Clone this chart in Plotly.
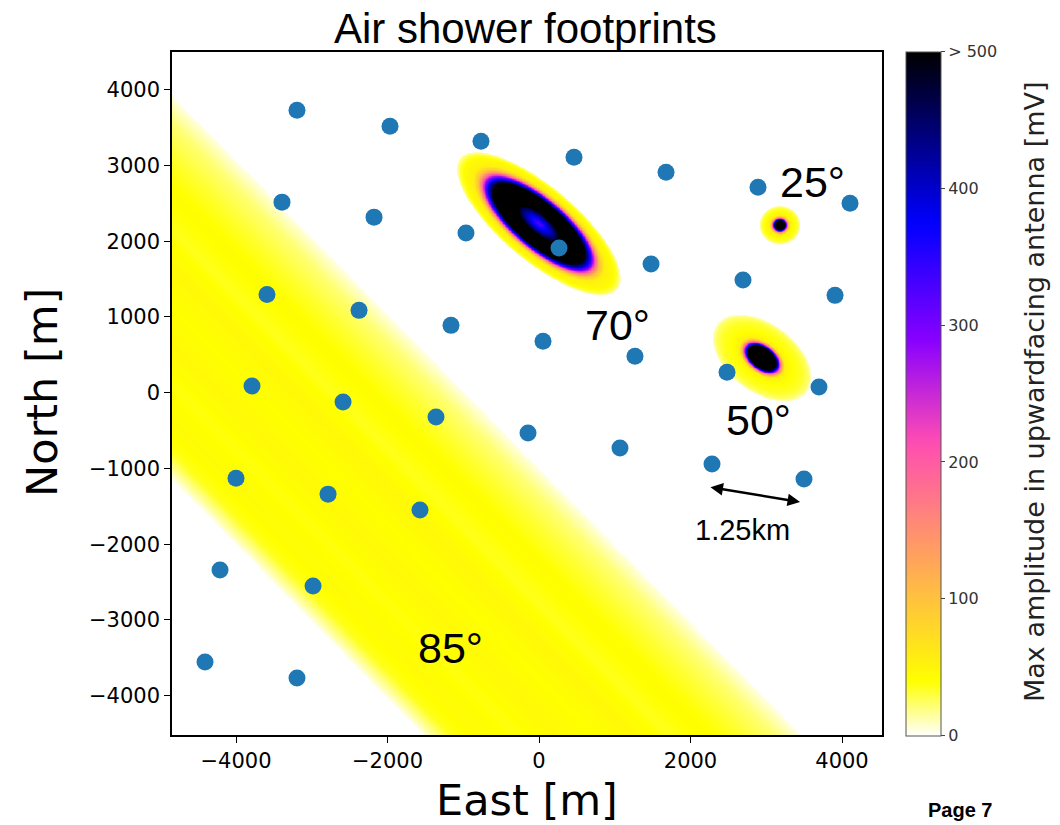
import numpy as np
import plotly.graph_objects as go

# ---------------- data ----------------
# antenna positions [m]
ANT_EAST = [-3195, -1967, -766, 462, 1677, 2891, 4106,
            -3393, -2178, -964, 264, 1479, 2693, 3908,
            -3591, -2376, -1162, 53, 1267, 2482, 3696,
            -3789, -2587, -1360, -145, 1069, 2284, 3498,
            -4000, -2785, -1571,
            -4211, -2983,
            -4409, -3195]
ANT_NORTH = [3728, 3518, 3320, 3109, 2911, 2713, 2502,
             2516, 2318, 2107, 1909, 1698, 1487, 1285,
             1298, 1087, 889, 678, 480, 269, 75,
             88, -123, -321, -532, -729, -940, -1138,
             -1128, -1339, -1550,
             -2342, -2553,
             -3555, -3766]

# elliptical footprints (70°, 50°, 25°)
FP_CENTER_E = [0, 2944, 3181]
FP_CENTER_N = [2230, 460, 2212]
FP_SEMI_MAJOR = [1350, 740, 270]
FP_SEMI_MINOR = [490, 450, 255]
FP_ANGLE_DEG = [-40, -37, 0]

# amplitude [mV] versus normalised elliptical radius
FP70_R = [0.00, 0.10, 0.20, 0.30, 0.50, 0.56, 0.60, 0.64, 0.67, 0.70, 0.74, 0.80, 0.90, 0.96, 1.00]
FP70_AMP = [320, 380, 450, 560, 600, 500, 420, 330, 250, 170, 100, 55, 45, 30, 12]
FP50_R = [0.00, 0.27, 0.31, 0.34, 0.37, 0.41, 0.46, 0.60, 0.80, 0.93, 1.00]
FP50_AMP = [700, 530, 420, 300, 200, 110, 55, 40, 34, 24, 8]
FP25_R = [0.00, 0.22, 0.28, 0.32, 0.36, 0.42, 0.50, 0.70, 0.90, 1.00]
FP25_AMP = [700, 530, 420, 300, 200, 110, 55, 42, 28, 8]

# 85° band: across-band coordinate (lower-left edge -> upper-right edge)
BAND_EDGE_LOW = -4254
BAND_EDGE_HIGH = -706
BAND_NORMAL_DEG = 44.5
BAND_S = [0.00, 0.03, 0.07, 0.15, 0.25, 0.35, 0.45, 0.55, 0.65, 0.75, 0.85, 0.93, 0.97, 1.00]
BAND_AMP = [4, 18, 36, 44, 38, 46, 40, 47, 36, 42, 32, 22, 12, 4]

# colour bar
CB_TICKVALS = [0, 100, 200, 300, 400, 500]
CB_TICKTEXT = ["0", "100", "200", "300", "400", "> 500"]
X_TICKVALS = [-4000, -2000, 0, 2000, 4000]
X_TICKTEXT = ["\u22124000", "\u22122000", "0", "2000", "4000"]
Y_TICKVALS = [-4000, -3000, -2000, -1000, 0, 1000, 2000, 3000, 4000]
Y_TICKTEXT = ["\u22124000", "\u22123000", "\u22122000", "\u22121000", "0",
              "1000", "2000", "3000", "4000"]

ANGLE_LABELS = ["70°", "50°", "25°", "85°"]
ANGLE_E = [1030, 2891, 3617, -1175]
ANGLE_N = [890, -360, 2778, -3370]

X_RANGE = [-4845, 4528]
Y_RANGE = [-4519, 4498]


# ---------------- colour scale (gnuplot2 reversed) ----------------
def gnuplot2(x):
    r = np.clip(x / 0.32 - 0.78125, 0, 1)
    g = np.clip(2 * x - 0.84, 0, 1)
    b = np.where(x < 0.25, 4 * x, np.where(x < 0.92, -2 * x + 1.84, x / 0.08 - 11.5))
    b = np.clip(b, 0, 1)
    return r, g, b


stops = np.linspace(0, 1, 51)
colorscale = []
for v in stops:
    r, g, b = gnuplot2(np.array(1 - v))
    colorscale.append([float(v), "rgb(%d,%d,%d)" % (round(255 * float(r)), round(255 * float(g)), round(255 * float(b)))])

fig = go.Figure()

# ---------------- 85° band ----------------
bx = np.arange(X_RANGE[0], X_RANGE[1] + 1, 20.0)
by = np.arange(Y_RANGE[0], Y_RANGE[1] + 1, 20.0)
BX, BY = np.meshgrid(bx, by)
th = np.deg2rad(BAND_NORMAL_DEG)
u = BX * np.cos(th) + BY * np.sin(th)
s = (u - BAND_EDGE_LOW) / (BAND_EDGE_HIGH - BAND_EDGE_LOW)
zb = np.interp(s, BAND_S, BAND_AMP).astype(np.float32)
zb[(s < 0) | (s > 1)] = np.nan
fig.add_trace(go.Heatmap(x=bx, y=by, z=zb, coloraxis="coloraxis", hoverinfo="skip"))

# ---------------- elliptical footprints ----------------
profiles = [(FP70_R, FP70_AMP, 8.0), (FP50_R, FP50_AMP, 6.0), (FP25_R, FP25_AMP, 3.0)]
for i, (pr, pa, step) in enumerate(profiles):
    a = FP_SEMI_MAJOR[i]
    b = FP_SEMI_MINOR[i]
    cx, cy = FP_CENTER_E[i], FP_CENTER_N[i]
    ext = a * 1.05
    gx = np.arange(cx - ext, cx + ext, step)
    gy = np.arange(cy - ext, cy + ext, step)
    GX, GY = np.meshgrid(gx, gy)
    t = np.deg2rad(FP_ANGLE_DEG[i])
    dx, dy = GX - cx, GY - cy
    uu = dx * np.cos(t) + dy * np.sin(t)
    ww = -dx * np.sin(t) + dy * np.cos(t)
    rr = np.sqrt((uu / a) ** 2 + (ww / b) ** 2)
    zz = np.interp(rr, pr, pa).astype(np.float32)
    zz[rr > 1] = np.nan
    fig.add_trace(go.Heatmap(x=gx, y=gy, z=zz, coloraxis="coloraxis", hoverinfo="skip"))

# ---------------- antennas ----------------
fig.add_trace(go.Scatter(x=ANT_EAST, y=ANT_NORTH, mode="markers",
                         marker=dict(size=17, color="#1f77b4", line=dict(width=0)),
                         showlegend=False, hoverinfo="skip"))

# ---------------- layout ----------------
tickfont = dict(family="DejaVu Sans", size=21, color="black")
fig.update_layout(
    width=1060, height=825,
    margin=dict(l=172, r=178, t=52, b=90),
    paper_bgcolor="white", plot_bgcolor="white",
    showlegend=False,
    coloraxis=dict(
        colorscale=colorscale, cmin=0, cmax=500,
        colorbar=dict(
            x=(906 - 172) / 710, xanchor="left", xpad=0,
            y=0.5, yanchor="middle", ypad=0,
            thickness=35, thicknessmode="pixels",
            len=684, lenmode="pixels",
            outlinewidth=1, outlinecolor="#555555",
            tickvals=CB_TICKVALS, ticktext=CB_TICKTEXT,
            ticks="outside", ticklen=4, tickcolor="#444444",
            tickfont=dict(family="DejaVu Sans", size=16, color="#333333"),
        ),
    ),
    xaxis=dict(range=X_RANGE, tickvals=X_TICKVALS, ticktext=X_TICKTEXT,
               showgrid=False, zeroline=False, showline=True, mirror=True,
               linecolor="black", linewidth=1.5, ticks="outside", ticklen=6,
               tickcolor="black", tickfont=tickfont),
    yaxis=dict(range=Y_RANGE, tickvals=Y_TICKVALS, ticktext=Y_TICKTEXT,
               showgrid=False, zeroline=False, showline=True, mirror=True,
               linecolor="black", linewidth=1.5, ticks="outside", ticklen=6,
               tickcolor="black", tickfont=tickfont),
)

ann = []
ann.append(dict(text="Air shower footprints", xref="paper", yref="paper",
                x=(525 - 172) / 710, y=(735 - 28) / 683, showarrow=False,
                xanchor="center", yanchor="middle",
                font=dict(family="Liberation Sans, Arial", size=42, color="black")))
ann.append(dict(text="East [m]", xref="paper", yref="paper",
                x=(527 - 172) / 710, y=(735 - 800) / 683, showarrow=False,
                xanchor="center", yanchor="middle",
                font=dict(family="DejaVu Sans", size=43, color="black")))
ann.append(dict(text="North [m]", xref="paper", yref="paper", textangle=-90,
                x=(42 - 172) / 710, y=(735 - 393) / 683, showarrow=False,
                xanchor="center", yanchor="middle",
                font=dict(family="DejaVu Sans", size=43, color="black")))
ann.append(dict(text="Max amplitude in upwardfacing antenna [mV]", xref="paper", yref="paper",
                textangle=-90, x=(1034 - 172) / 710, y=(735 - 392) / 683, showarrow=False,
                xanchor="center", yanchor="middle",
                font=dict(family="DejaVu Sans", size=27, color="#222222")))
ann.append(dict(text="<b>Page 7</b>", xref="paper", yref="paper",
                x=(960 - 172) / 710, y=(735 - 810) / 683, showarrow=False,
                xanchor="center", yanchor="middle",
                font=dict(family="Liberation Sans, Arial", size=20, color="black")))
for lab, e, n in zip(ANGLE_LABELS, ANGLE_E, ANGLE_N):
    ann.append(dict(text=lab, x=e, y=n, xref="x", yref="y", showarrow=False,
                    xanchor="center", yanchor="middle",
                    font=dict(family="Liberation Sans, Arial", size=43, color="black")))
# 1.25 km spacing arrow
ann.append(dict(text="", x=3446, y=-1442, ax=2244, ay=-1244, xref="x", yref="y",
                axref="x", ayref="y", showarrow=True, arrowhead=2, startarrowhead=2,
                arrowside="end+start", arrowwidth=2.5, arrowsize=1, arrowcolor="black",
                standoff=0, startstandoff=0))
ann.append(dict(text="1.25km", x=2680, y=-1813, xref="x", yref="y", showarrow=False,
                xanchor="center", yanchor="middle",
                font=dict(family="Liberation Sans, Arial", size=29, color="black")))
fig.update_layout(annotations=ann)

fig.write_html("out.html")
